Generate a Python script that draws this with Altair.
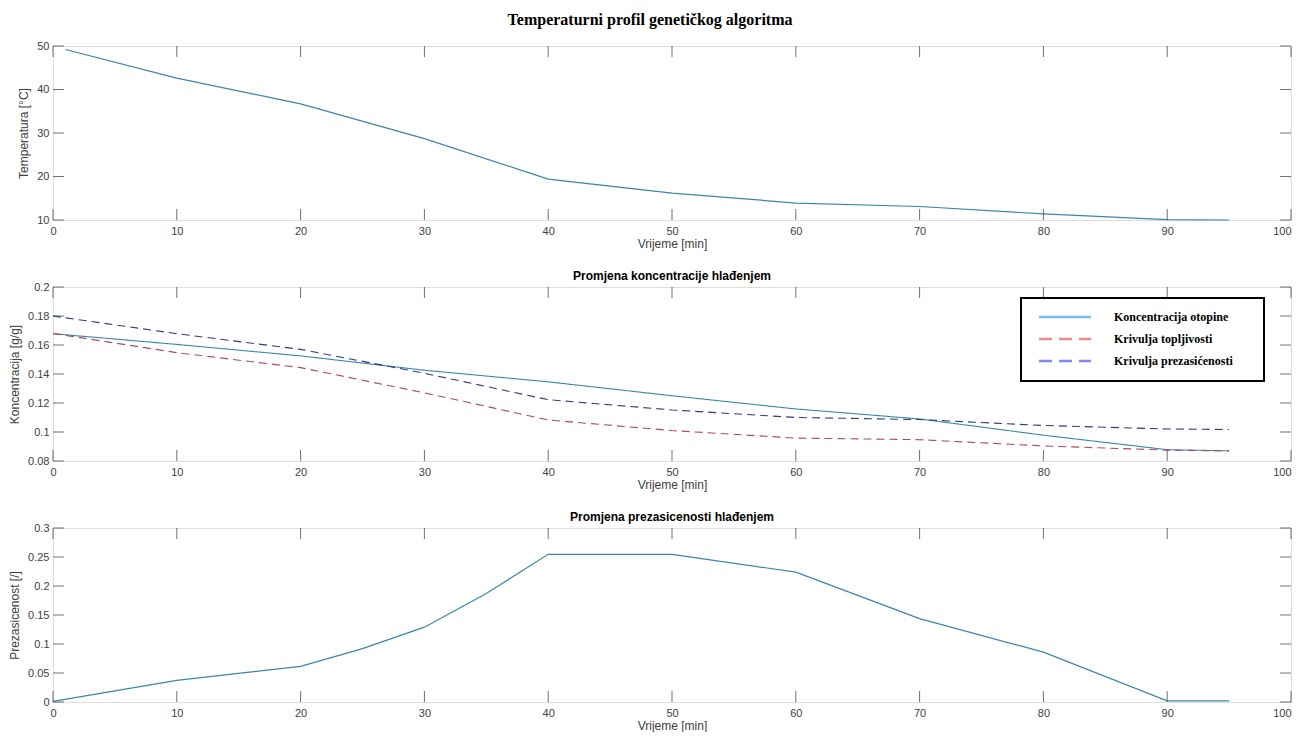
import altair as alt
import pandas as pd

# ---------------- data ----------------
x_ticks = [0, 10, 20, 30, 40, 50, 60, 70, 80, 90, 100]

temp_time = [1, 10, 20, 30, 40, 50, 60, 70, 80, 90, 95]
temp_vals = [49.2, 42.6, 36.7, 28.7, 19.4, 16.2, 13.9, 13.1, 11.4, 10.1, 10.0]
temp_yticks = [10, 20, 30, 40, 50]

conc_time = [0, 10, 20, 30, 40, 50, 60, 70, 80, 90, 95]
conc_solution = [0.1678, 0.1604, 0.1525, 0.1426, 0.1346, 0.1250, 0.1159, 0.1090, 0.0978, 0.0878, 0.0870]
conc_solubility = [0.1680, 0.1547, 0.1444, 0.1270, 0.1083, 0.1010, 0.0958, 0.0947, 0.0904, 0.0875, 0.0870]
conc_supersat = [0.1800, 0.1678, 0.1570, 0.1405, 0.1223, 0.1152, 0.1100, 0.1086, 0.1045, 0.1021, 0.1017]
conc_yticks = [0.08, 0.1, 0.12, 0.14, 0.16, 0.18, 0.2]

prez_time = [0, 10, 20, 25, 30, 35, 40, 50, 60, 70, 80, 90, 95]
prez_vals = [0.001, 0.0374, 0.0615, 0.092, 0.129, 0.187, 0.2546, 0.2546, 0.224, 0.1437, 0.086, 0.002, 0.002]
prez_yticks = [0, 0.05, 0.1, 0.15, 0.2, 0.25, 0.3]

series_names = ["Koncentracija otopine", "Krivulja topljivosti", "Krivulja prezasićenosti"]
series_colors = ["#3b86a8", "#b04a5e", "#2e3b7e"]
legend_colors = ["#7db8e8", "#f08a8a", "#8585f0"]

main_title = "Temperaturni profil genetičkog algoritma"
title2 = "Promjena koncentracije hlađenjem"
title3 = "Promjena prezasicenosti hlađenjem"
xtitle = "Vrijeme [min]"

# ---------------- styling ----------------
W, H = 1238, 174
TICKC = "#333333"
LABELC = "#404040"
SANS = "Liberation Sans"
SERIF = "Liberation Serif"
TL = 11  # inner tick length


def xaxis():
    return alt.Axis(values=x_ticks, title=xtitle, grid=False, ticks=False, tickSize=0,
                    domain=False, labelFont=SANS, labelFontSize=11, labelColor=LABELC,
                    labelPadding=5, labelFlush=False, labelOverlap=False,
                    labelAlign={"condition": {"test": "datum.value >= 100", "value": "right"},
                                "value": "center"},
                    titleFont=SANS, titleFontSize=12, titleFontWeight="normal",
                    titleColor=LABELC, titlePadding=2)


def yaxis(vals, title):
    return alt.Axis(values=vals, title=title, grid=False, ticks=False, tickSize=0,
                    domain=False, format=".2~f", labelFont=SANS, labelFontSize=11,
                    labelColor=LABELC, labelPadding=4, labelFlush=False, labelOverlap=False,
                    titleFont=SANS, titleFontSize=12, titleFontWeight="normal",
                    titleColor=LABELC, titlePadding=6)


def tick_layers(xs, ys, yvals, ytitle):
    tx = pd.DataFrame({"v": x_ticks})
    ty = pd.DataFrame({"v": yvals})
    top = alt.Chart(tx).mark_tick(size=TL, thickness=1, color=TICKC, orient="vertical").encode(
        x=alt.X("v:Q", scale=xs, axis=xaxis()), y=alt.value(TL / 2))
    bot = alt.Chart(tx).mark_tick(size=TL, thickness=1, color=TICKC, orient="vertical").encode(
        x=alt.X("v:Q", scale=xs, axis=xaxis()), y=alt.value(H - TL / 2))
    left = alt.Chart(ty).mark_tick(size=TL, thickness=1, color=TICKC, orient="horizontal").encode(
        y=alt.Y("v:Q", scale=ys, axis=yaxis(yvals, ytitle)), x=alt.value(TL / 2))
    right = alt.Chart(ty).mark_tick(size=TL, thickness=1, color=TICKC, orient="horizontal").encode(
        y=alt.Y("v:Q", scale=ys, axis=yaxis(yvals, ytitle)), x=alt.value(W - TL / 2))
    return [top, bot, left, right]


xs = alt.Scale(domain=[0, 100], nice=False, zero=False)

# ---- panel 1 ----
yt1 = "Temperatura [°C]"
ys1 = alt.Scale(domain=[10, 50], nice=False, zero=False)
df1 = pd.DataFrame({"t": temp_time, "T": temp_vals})
line1 = alt.Chart(df1).mark_line(color=series_colors[0], strokeWidth=1.2).encode(
    x=alt.X("t:Q", scale=xs, axis=xaxis()),
    y=alt.Y("T:Q", scale=ys1, axis=yaxis(temp_yticks, yt1)))
p1 = alt.layer(line1, *tick_layers(xs, ys1, temp_yticks, yt1)).properties(width=W, height=H)

# ---- panel 2 ----
yt2 = "Koncentracija [g/g]"
ys2 = alt.Scale(domain=[0.08, 0.2], nice=False, zero=False)
rows = []
for name, vals in zip(series_names, [conc_solution, conc_solubility, conc_supersat]):
    for t, v in zip(conc_time, vals):
        rows.append({"t": t, "c": v, "s": name})
df2 = pd.DataFrame(rows)
line2 = alt.Chart(df2).mark_line(strokeWidth=1.1).encode(
    x=alt.X("t:Q", scale=xs, axis=xaxis()),
    y=alt.Y("c:Q", scale=ys2, axis=yaxis(conc_yticks, yt2)),
    color=alt.Color("s:N", scale=alt.Scale(domain=series_names, range=series_colors), legend=None),
    strokeDash=alt.StrokeDash("s:N", scale=alt.Scale(domain=series_names, range=[[1, 0], [8, 5], [8, 5]]), legend=None),
    detail="s:N")

one = pd.DataFrame({"a": [0]})
LX = W - 270
legend_box = alt.Chart(one).mark_rect(fill="white", stroke="black", strokeWidth=2).encode(
    x=alt.value(LX), x2=alt.value(LX + 243), y=alt.value(11), y2=alt.value(94))
legend_layers = [legend_box]
dashes = [[1, 0], [13, 7], [13, 7]]
for i, name in enumerate(series_names):
    yy = 30 + 22 * i
    legend_layers.append(alt.Chart(one).mark_rule(color=legend_colors[i], strokeWidth=2.5,
                                                    strokeDash=dashes[i]).encode(
        x=alt.value(LX + 18), x2=alt.value(LX + 70), y=alt.value(yy)))
    legend_layers.append(alt.Chart(one).mark_text(align="left", baseline="middle", font=SERIF,
                                                    fontWeight="bold", fontSize=12, color="black").encode(
        x=alt.value(LX + 93), y=alt.value(yy), text=alt.value(name)))

p2 = alt.layer(line2, *tick_layers(xs, ys2, conc_yticks, yt2), *legend_layers).properties(
    width=W, height=H,
    title=alt.TitleParams(title2, font=SANS, fontSize=12, fontWeight="bold", color="black",
                          anchor="middle", offset=-2))

# ---- panel 3 ----
yt3 = "Prezasicenost [/]"
ys3 = alt.Scale(domain=[0, 0.3], nice=False, zero=False)
df3 = pd.DataFrame({"t": prez_time, "p": prez_vals})
line3 = alt.Chart(df3).mark_line(color=series_colors[0], strokeWidth=1.2).encode(
    x=alt.X("t:Q", scale=xs, axis=xaxis()),
    y=alt.Y("p:Q", scale=ys3, axis=yaxis(prez_yticks, yt3)))
p3 = alt.layer(line3, *tick_layers(xs, ys3, prez_yticks, yt3)).properties(
    width=W, height=H,
    title=alt.TitleParams(title3, font=SANS, fontSize=12, fontWeight="bold", color="black",
                          anchor="middle", offset=-2))

chart = alt.vconcat(p1, p2, p3, spacing=67, bounds="flush").properties(
    title=alt.TitleParams(main_title, font=SERIF, fontSize=16, fontWeight="bold", color="black",
                          anchor="middle", offset=12),
    padding={"left": 0, "top": 3, "right": 0, "bottom": 0},
).configure_view(stroke="#5a5a5a", strokeWidth=1).configure(background="white")

chart.save("out.html", embed_options={"renderer": "svg", "actions": False})
